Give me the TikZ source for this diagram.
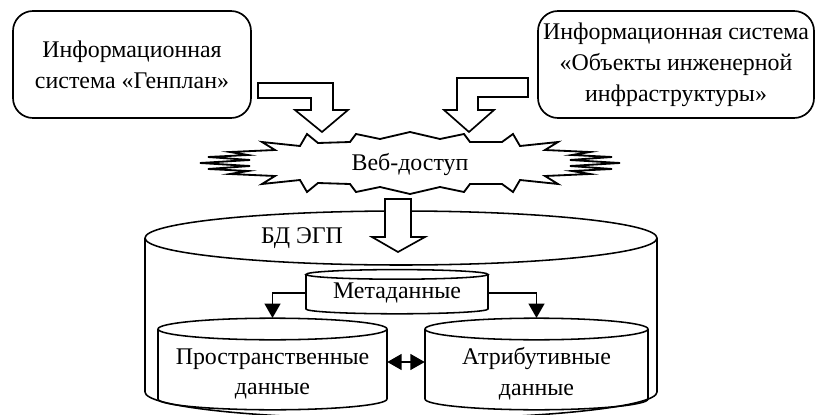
\documentclass[tikz,border=0pt]{standalone}
\usepackage{fontspec}
\setmainfont{Liberation Serif}
\usetikzlibrary{arrows.meta,positioning,calc}

\tikzset{
  infobox/.style={draw, line width=1.2pt, rounded corners=0.5cm, align=center, inner sep=0pt},
  blockarrow/.style={draw, line width=1.2pt, fill=white},
  dbline/.style={line width=1.1pt},
  link/.style={line width=1.1pt, -{Triangle[length=0.36cm,width=0.4cm]}},
  twolink/.style={line width=1.1pt, {Triangle[length=0.36cm,width=0.4cm]}-{Triangle[length=0.36cm,width=0.4cm]}}
}

\begin{document}
\begin{tikzpicture}[scale=1, font=\fontsize{17}{22}\selectfont]

\useasboundingbox (0,0) rectangle (20.4,10.35);

\node [infobox, minimum width=5.95cm, minimum height=2.675cm] (genplan) at (3.3,8.7375) {Информационная\\система «Генплан»};
\node [infobox, minimum width=6.9cm, minimum height=2.675cm] (objects) at (16.9,8.7375) {Информационная система\\«Объекты инженерной\\инфраструктуры»};

\draw [blockarrow] (6.45,8.275)--(8.325,8.275)--(8.325,7.6)--(8.7,7.6)--(8.05,7.05)--(7.375,7.6)--(7.775,7.6)--(7.775,7.9)--(6.45,7.9)--cycle;
\draw [blockarrow] (13.2,8.4)--(11.425,8.4)--(11.425,7.6)--(11.1,7.6)--(11.725,7.05)--(12.35,7.6)--(11.95,7.6)--(11.95,7.925)--(13.2,7.925)--cycle;

\draw [line width=1.3pt, fill=white] (5.0,6.275)--(6.25,6.35)--(5.2,6.425)--(6.2,6.475)--(5.75,6.55)--(6.875,6.6)--(6.55,6.8)--(7.5,6.7)--(7.675,7.0)--(7.95,6.775)--(8.75,6.8)--(8.9,7.0)--(9.5,6.875)--(10.25,7.05)
  --(11.0,6.875)--(11.6,7.0)--(11.75,6.8)--(12.55,6.8)--(12.825,7.0)--(13.0,6.7)--(13.95,6.8)--(13.625,6.6)--(14.75,6.55)--(14.3,6.475)--(15.3,6.425)--(14.25,6.35)--(15.5,6.275)
  --(14.25,6.2)--(15.3,6.125)--(14.3,6.075)--(14.75,6.0)--(13.625,5.95)--(13.95,5.75)--(13.0,5.85)--(12.825,5.55)--(12.55,5.75)--(11.75,5.75)--(11.6,5.55)--(11.0,5.675)--(10.25,5.5)
  --(9.5,5.675)--(8.9,5.55)--(8.75,5.75)--(7.95,5.775)--(7.675,5.55)--(7.5,5.85)--(6.55,5.75)--(6.875,5.95)--(5.75,6.0)--(6.2,6.075)--(5.2,6.125)--(6.25,6.2)--cycle;
\node (web) at (10.25,6.225) {Веб-доступ};

\draw [dbline] (3.625,4.4)--(3.625,0.55) arc [start angle=180, end angle=360, x radius=6.4cm, y radius=0.675cm]--(16.425,4.4);
\draw [dbline] (10.025,4.4) ellipse [x radius=6.4cm, y radius=0.675cm];
\node (bd) at (7.55,4.4) {БД ЭГП};

\draw [blockarrow] (9.625,5.375)--(10.275,5.375)--(10.275,4.425)--(10.625,4.425)--(9.95,4.05)--(9.3,4.425)--(9.625,4.425)--cycle;

\draw [dbline] (7.65,3.49)--(7.65,2.625) arc [start angle=180, end angle=360, x radius=2.275cm, y radius=0.12cm]--(12.2,3.49);
\draw [dbline] (9.925,3.49) ellipse [x radius=2.275cm, y radius=0.12cm];
\node [minimum width=4.55cm] (meta) at (9.925,3.02) {Метаданные};

\draw [dbline] (3.95,2.125)--(3.95,0.375) arc [start angle=180, end angle=360, x radius=2.8625cm, y radius=0.27cm]--(9.675,2.125);
\draw [dbline] (6.8125,2.125) ellipse [x radius=2.8625cm, y radius=0.27cm];
\node [align=center, minimum width=5.725cm, minimum height=2.79cm] (spatial) at (6.8125,1.0) {Пространственные\\данные};

\draw [dbline] (10.625,2.125)--(10.625,0.375) arc [start angle=180, end angle=360, x radius=2.7875cm, y radius=0.27cm]--(16.2,2.125);
\draw [dbline] (13.4125,2.125) ellipse [x radius=2.7875cm, y radius=0.27cm];
\node [align=center, minimum width=5.575cm, minimum height=2.79cm] (attrib) at (13.4125,1.0) {Атрибутивные\\данные};

\draw [link] (meta.west) -| (spatial.north);
\draw [link] (meta.east) -| (attrib.north);
\draw [twolink] ([yshift=0.3cm]spatial.east)--([yshift=0.3cm]attrib.west);

\end{tikzpicture}
\end{document}
